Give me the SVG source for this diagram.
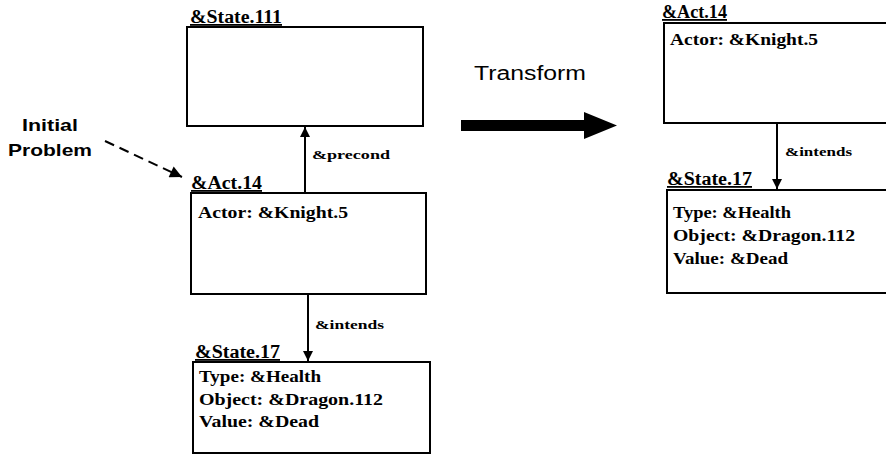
<svg xmlns="http://www.w3.org/2000/svg" width="886" height="466" viewBox="0 0 886 466">
<defs>
<style>
.box{fill:#fff;stroke:#000;stroke-width:2}
.lbl{font-family:"Liberation Serif","Times New Roman",serif;font-weight:bold;font-size:18px;fill:#000;text-decoration:underline}
.txt{font-family:"Liberation Serif","Times New Roman",serif;font-weight:bold;font-size:16px;fill:#000}
.rel{font-family:"Liberation Serif","Times New Roman",serif;font-weight:bold;font-size:12px;fill:#000}
.sans{font-family:"Liberation Sans",Arial,sans-serif;fill:#000}
.conn{stroke:#000;stroke-width:2;fill:none}
</style>
<marker id="ah" viewBox="0 0 10 10" refX="10" refY="5" markerWidth="5" markerHeight="6" markerUnits="strokeWidth" orient="auto">
<path d="M0,0 L10,5 L0,10 z" fill="#000"/>
</marker>
<marker id="ah2" viewBox="0 0 10 10" refX="10" refY="5" markerWidth="7" markerHeight="6" markerUnits="strokeWidth" orient="auto">
<path d="M0,0 L10,5 L0,10 z" fill="#000"/>
</marker>
</defs>
<rect width="886" height="466" fill="#fff"/>

<g id="initial-problem">
<text class="sans" x="50" y="131" text-anchor="middle" font-weight="bold" font-size="17" textLength="56" lengthAdjust="spacingAndGlyphs">Initial</text>
<text class="sans" x="50" y="156" text-anchor="middle" font-weight="bold" font-size="17" textLength="84" lengthAdjust="spacingAndGlyphs">Problem</text>
</g>

<g id="transform">
<text class="sans" x="474" y="80" font-size="20" textLength="112" lengthAdjust="spacingAndGlyphs">Transform</text>
<path d="M461,120 L584,120 L584,112 L617,125.5 L584,139 L584,131 L461,131 z" fill="#000"/>
</g>

<g id="state111">
<rect class="box" x="187" y="27" width="236" height="99"/>
<text class="lbl" x="190" y="23" textLength="92" lengthAdjust="spacingAndGlyphs">&amp;State.111</text>
</g>

<g id="act14-left">
<rect class="box" x="191" y="193" width="235" height="101"/>
<text class="lbl" x="191" y="189" textLength="71" lengthAdjust="spacingAndGlyphs">&amp;Act.14</text>
<text class="txt" x="198" y="218" textLength="150" lengthAdjust="spacingAndGlyphs">Actor: &amp;Knight.5</text>
</g>

<g id="state17-left">
<rect class="box" x="193" y="362" width="237" height="91"/>
<text class="lbl" x="195" y="358" textLength="85" lengthAdjust="spacingAndGlyphs">&amp;State.17</text>
<text class="txt" x="199" y="382" textLength="122" lengthAdjust="spacingAndGlyphs">Type: &amp;Health</text>
<text class="txt" x="199" y="405" textLength="184" lengthAdjust="spacingAndGlyphs">Object: &amp;Dragon.112</text>
<text class="txt" x="199" y="427" textLength="120" lengthAdjust="spacingAndGlyphs">Value: &amp;Dead</text>
</g>

<g id="act14-right">
<rect class="box" x="664" y="23" width="240" height="100"/>
<text class="lbl" x="662" y="18" textLength="65" lengthAdjust="spacingAndGlyphs">&amp;Act.14</text>
<text class="txt" x="670" y="45" textLength="148" lengthAdjust="spacingAndGlyphs">Actor: &amp;Knight.5</text>
</g>

<g id="state17-right">
<rect class="box" x="667" y="190" width="240" height="103"/>
<text class="lbl" x="667" y="185" textLength="85" lengthAdjust="spacingAndGlyphs">&amp;State.17</text>
<text class="txt" x="673" y="218" textLength="118" lengthAdjust="spacingAndGlyphs">Type: &amp;Health</text>
<text class="txt" x="673" y="241" textLength="182" lengthAdjust="spacingAndGlyphs">Object: &amp;Dragon.112</text>
<text class="txt" x="673" y="264" textLength="115" lengthAdjust="spacingAndGlyphs">Value: &amp;Dead</text>
</g>

<g id="connectors">
<line class="conn" x1="105" y1="141" x2="182" y2="177" stroke-dasharray="10,6" marker-end="url(#ah2)"/>
<line class="conn" x1="305" y1="193" x2="305" y2="127" marker-end="url(#ah)"/>
<text class="rel" x="312" y="159" textLength="78" lengthAdjust="spacingAndGlyphs">&amp;precond</text>
<line class="conn" x1="308" y1="294" x2="308" y2="361" marker-end="url(#ah)"/>
<text class="rel" x="315" y="329" textLength="69" lengthAdjust="spacingAndGlyphs">&amp;intends</text>
<line class="conn" x1="777" y1="123" x2="777" y2="189" marker-end="url(#ah)"/>
<text class="rel" x="785" y="156" textLength="67" lengthAdjust="spacingAndGlyphs">&amp;intends</text>
</g>
</svg>
